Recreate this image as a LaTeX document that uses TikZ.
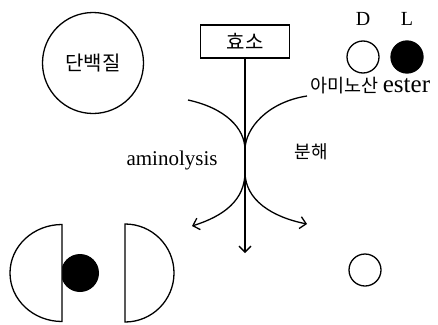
\documentclass[tikz,border=0pt]{standalone}
\usepackage{fontspec}
\setmainfont{Liberation Serif}
\newfontfamily\kor{Noto Sans CJK KR}
\usepackage{tikz}
\usetikzlibrary{arrows.meta, positioning}
\tikzset{
	bead/.style={circle, draw, minimum size=32pt, inner sep=0pt},
	ktext/.style={font=\kor\fontsize{18}{20}\selectfont, inner sep=0pt},
	etext/.style={font=\fontsize{21}{24}\selectfont, inner sep=0pt},
	barb/.style={-{Straight Barb[length=6pt,width=12pt]}}
}

\begin{document}
\begin{tikzpicture}[x=1pt, y=-1pt, line width=1.3pt]
				\useasboundingbox (0,0) rectangle (438,324);
				\node[circle, draw, minimum size=101pt, inner sep=0pt, ktext, font=\kor\fontsize{20}{22}\selectfont] (protein) at (93,63) {단백질};
				\node[draw, minimum width=89pt, minimum height=33pt, ktext, font=\kor\fontsize{20}{22}\selectfont] (enzyme) at (245,41.5) {효소};
				\node[bead] (Dball) at (363,57) {};
				\node[bead, fill=black] (Lball) at (407,57) {};
				\node[etext, font=\fontsize{20}{22}\selectfont, above=14pt of Dball] (Dlab) {D};
				\node[etext, font=\fontsize{20}{22}\selectfont, above=14pt of Lball] (Llab) {L};
				\node[ktext, anchor=west, font=\kor\fontsize{18.5}{20}\selectfont] (ester) at (310,86) {아미노산~{\rmfamily\fontsize{25}{28}\selectfont ester}};
				\node[etext] (amino) at (172,160) {aminolysis};
				\node[ktext] (split) at (311,152) {분해};
				% enzyme attack
				\coordinate (down) at (245,253);
				\draw[barb] (enzyme) -- (down);
				% two touching arcs
				\coordinate (lefttop) at (188,100);
				\coordinate (lefttip) at (192,226);
				\coordinate (righttop) at (307,96);
				\coordinate (righttip) at (307,224);
				\draw[barb] (lefttop) .. controls (225,108) and (245,128) .. (245,150) -- (245,172) .. controls (245,200) and (224,216) .. (lefttip);
				\draw[barb] (righttop) .. controls (268,102) and (245,128) .. (245,150) -- (245,172) .. controls (245,200) and (272,217) .. (righttip);
				% products
				\fill (80,273) circle (19);
				\filldraw[fill=white] (62,224.5) arc[start angle=270, end angle=90, x radius=52, y radius=48.5] -- cycle;
				\draw (125,224) arc[start angle=270, end angle=450, radius=49] -- cycle;
				\node[bead] (free) at (365,270) {};
			\end{tikzpicture}
\end{document}
